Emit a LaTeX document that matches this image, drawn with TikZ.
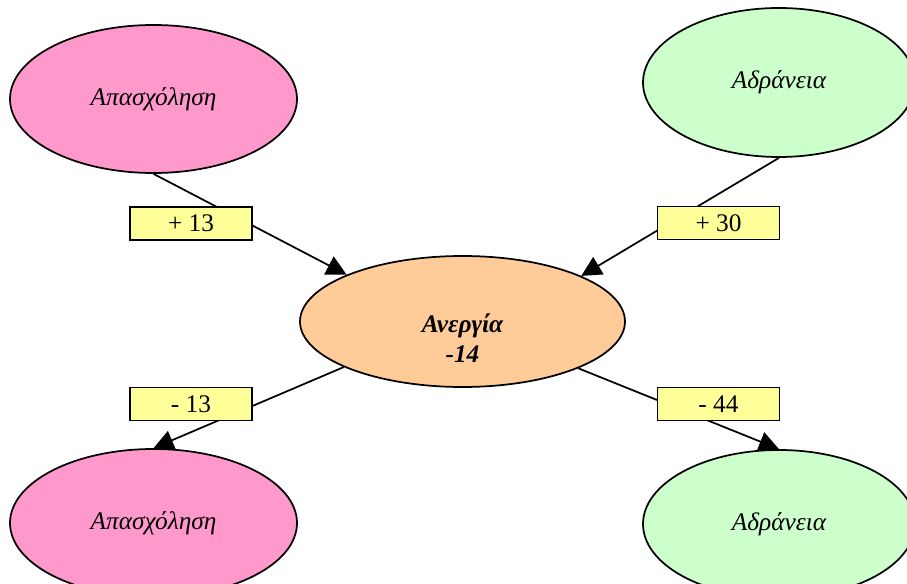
\documentclass[tikz,border=0pt]{standalone}
\usepackage{fontspec}
\setmainfont{Liberation Serif}
\usetikzlibrary{arrows.meta,shapes.geometric}
\definecolor{pinkc}{HTML}{FF99CC}
\definecolor{greenc}{HTML}{CCFFCC}
\definecolor{orangec}{HTML}{FFCC99}
\definecolor{yellowc}{HTML}{FFFF99}
\begin{document}
\begin{tikzpicture}[x=0.75pt,y=-0.75pt,
  ell/.style={ellipse,draw,line width=1.3pt,inner sep=0pt,font=\fontsize{19}{23}\selectfont\itshape},
  lbl/.style={rectangle,draw,fill=yellowc,line width=1.3pt,inner sep=0pt,minimum width=91.5pt,minimum height=24.75pt,font=\fontsize{19}{23}\selectfont},
  edge/.style={line width=1.3pt,-{Triangle[length=15pt,width=15pt]}}
]
\useasboundingbox (0,0) rectangle (907,584);
\node[ell,fill=pinkc,minimum width=215.25pt,minimum height=111pt] (A1) at (153.5,99) {Απασχόληση};
\node[ell,fill=greenc,minimum width=204pt,minimum height=111.75pt] (A2) at (779,82.5) {Αδράνεια};
\node[ell,fill=pinkc,minimum width=215.25pt,minimum height=111pt] (B1) at (153.5,523) {Απασχόληση};
\node[ell,fill=greenc,minimum width=204pt,minimum height=111pt] (B2) at (779,524) {Αδράνεια};
\node[ell,fill=orangec,minimum width=243.75pt,minimum height=98.25pt] (C) at (462.5,321.5) {};
\node[align=center,font=\fontsize{19}{23}\selectfont\bfseries\itshape] (Ct) at (462.5,338) {Ανεργία\\-14};
\draw[edge] (A1.south) -- (C.158.5);
\draw[edge] (A2.south) -- (C.21.5);
\draw[edge] (C.201.5) -- (B1.north);
\draw[edge] (C.338.5) -- (B2.north);
\node[lbl] (L1) at (191,223.5) {+ 13};
\node[lbl] (L2) at (718.5,223) {+ 30};
\node[lbl] (L3) at (191,404) {- 13};
\node[lbl] (L4) at (718.5,404) {- 44};
\end{tikzpicture}
\end{document}
